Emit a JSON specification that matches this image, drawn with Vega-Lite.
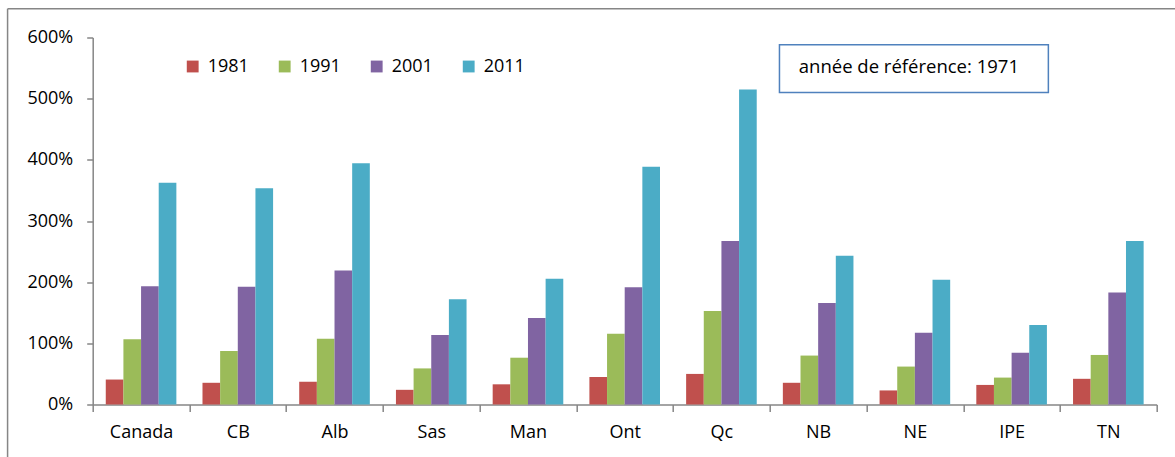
{
  "$schema": "https://vega.github.io/schema/vega-lite/v6.json",
  "autosize": "none",
  "width": 1064,
  "height": 367,
  "padding": {"left": 92.7, "top": 37.5, "right": 18.3, "bottom": 52.5},
  "background": "white",
  "config": {"view": {"stroke": "transparent", "strokeWidth": 0}, "font": "Open Sans"},
  "layer": [
    {
      "data": {"values": [{}]},
      "mark": {"type": "rule", "stroke": "#868686", "strokeWidth": 1.5, "clip": false},
      "encoding": {
        "x": {"datum": -0.88, "type": "quantitative", "scale": {"domain": [0, 11]}, "axis": null},
        "y": {"datum": 647, "type": "quantitative", "scale": {"domain": [0, 600]}},
        "y2": {"datum": -200}
      }
    },
    {
      "data": {"values": [{}]},
      "mark": {"type": "rule", "stroke": "#868686", "strokeWidth": 1.5, "clip": false},
      "encoding": {
        "x": {"datum": -0.88, "type": "quantitative", "scale": {"domain": [0, 11]}, "axis": null},
        "x2": {"datum": 11.2},
        "y": {"datum": 647, "type": "quantitative", "scale": {"domain": [0, 600]}}
      }
    },
    {
      "data": {"values": [
        {"region": "Canada", "year": "1981", "value": 40.8},
        {"region": "Canada", "year": "1991", "value": 106.5},
        {"region": "Canada", "year": "2001", "value": 193.5},
        {"region": "Canada", "year": "2011", "value": 362.5},
        {"region": "CB", "year": "1981", "value": 35.5},
        {"region": "CB", "year": "1991", "value": 87.5},
        {"region": "CB", "year": "2001", "value": 192.5},
        {"region": "CB", "year": "2011", "value": 353.5},
        {"region": "Alb", "year": "1981", "value": 37},
        {"region": "Alb", "year": "1991", "value": 107.5},
        {"region": "Alb", "year": "2001", "value": 219},
        {"region": "Alb", "year": "2011", "value": 394.5},
        {"region": "Sas", "year": "1981", "value": 24},
        {"region": "Sas", "year": "1991", "value": 59},
        {"region": "Sas", "year": "2001", "value": 113.5},
        {"region": "Sas", "year": "2011", "value": 172},
        {"region": "Man", "year": "1981", "value": 33},
        {"region": "Man", "year": "1991", "value": 76.5},
        {"region": "Man", "year": "2001", "value": 141.5},
        {"region": "Man", "year": "2011", "value": 205.5},
        {"region": "Ont", "year": "1981", "value": 45},
        {"region": "Ont", "year": "1991", "value": 115.5},
        {"region": "Ont", "year": "2001", "value": 191.5},
        {"region": "Ont", "year": "2011", "value": 388.5},
        {"region": "Qc", "year": "1981", "value": 50},
        {"region": "Qc", "year": "1991", "value": 153},
        {"region": "Qc", "year": "2001", "value": 267.5},
        {"region": "Qc", "year": "2011", "value": 515},
        {"region": "NB", "year": "1981", "value": 35.5},
        {"region": "NB", "year": "1991", "value": 80},
        {"region": "NB", "year": "2001", "value": 166},
        {"region": "NB", "year": "2011", "value": 243},
        {"region": "NE", "year": "1981", "value": 23},
        {"region": "NE", "year": "1991", "value": 62},
        {"region": "NE", "year": "2001", "value": 117.5},
        {"region": "NE", "year": "2011", "value": 204},
        {"region": "IPE", "year": "1981", "value": 32},
        {"region": "IPE", "year": "1991", "value": 44},
        {"region": "IPE", "year": "2001", "value": 84.5},
        {"region": "IPE", "year": "2011", "value": 130},
        {"region": "TN", "year": "1981", "value": 42},
        {"region": "TN", "year": "1991", "value": 81},
        {"region": "TN", "year": "2001", "value": 183},
        {"region": "TN", "year": "2011", "value": 267.5}
      ]},
      "mark": {"type": "bar"},
      "encoding": {
        "x": {
          "field": "region", "type": "nominal",
          "sort": ["Canada", "CB", "Alb", "Sas", "Man", "Ont", "Qc", "NB", "NE", "IPE", "TN"],
          "scale": {"paddingInner": 0, "paddingOuter": 0},
          "axis": {
            "title": null, "labelAngle": 0, "tickBand": "extent", "tickSize": 7,
            "labelFontSize": 18, "labelColor": "black", "labelPadding": 12,
            "domainColor": "#868686", "domainWidth": 1.5, "tickColor": "#868686", "tickWidth": 1.5,
            "grid": false
          }
        },
        "xOffset": {
          "field": "year", "type": "nominal",
          "scale": {"paddingInner": 0, "paddingOuter": 0.74}
        },
        "y": {
          "field": "value", "type": "quantitative",
          "scale": {"domain": [0, 600]},
          "axis": {
            "title": null, "values": [0, 100, 200, 300, 400, 500, 600],
            "labelExpr": "datum.value + '%'", "labelFontSize": 18, "labelColor": "black",
            "labelPadding": 14, "tickSize": 6, "tickColor": "#868686", "tickWidth": 1.5,
            "domainColor": "#868686", "domainWidth": 1.5,
            "gridColor": "#868686", "gridWidth": 1.5
          }
        },
        "color": {
          "field": "year", "type": "nominal",
          "scale": {"domain": ["1981", "1991", "2001", "2011"], "range": ["#C0504D", "#9BBB59", "#8064A2", "#4BACC6"]},
          "legend": {
            "orient": "none", "legendX": 91, "legendY": 20, "direction": "horizontal",
            "title": null, "symbolType": "square", "symbolSize": 140, "symbolOpacity": 1,
            "symbolStrokeWidth": 0, "labelFontSize": 18, "labelColor": "black",
            "columnPadding": 26, "padding": 0, "labelOffset": 6
          }
        }
      }
    },
    {
      "data": {"values": [{}]},
      "mark": {"type": "rect", "fill": "white", "stroke": "#4F81BD", "strokeWidth": 1.5},
      "encoding": {
        "x": {"datum": 7.1, "type": "quantitative", "scale": {"domain": [0, 11]}, "axis": null},
        "x2": {"datum": 9.88},
        "y": {"datum": 588, "type": "quantitative"},
        "y2": {"datum": 510}
      }
    },
    {
      "data": {"values": [{}]},
      "mark": {"type": "text", "text": "année de référence: 1971", "align": "left", "baseline": "middle", "fontSize": 18.5, "color": "black"},
      "encoding": {
        "x": {"datum": 7.3, "type": "quantitative", "scale": {"domain": [0, 11]}, "axis": null},
        "y": {"datum": 552, "type": "quantitative"}
      }
    }
  ],
  "resolve": {"scale": {"x": "independent"}}
}
